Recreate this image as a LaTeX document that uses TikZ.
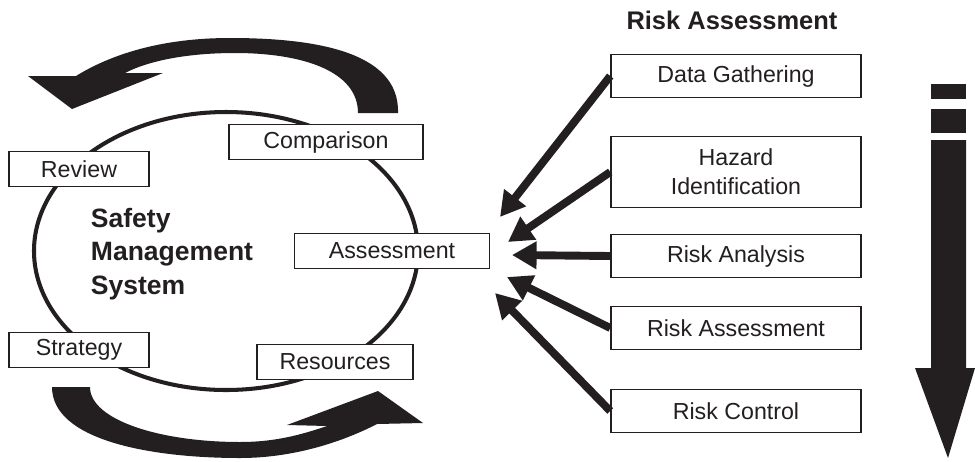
\documentclass[tikz,border=0pt]{standalone}
\usepackage{fontspec}
\setmainfont{Liberation Sans}
\usetikzlibrary{arrows.meta}
\definecolor{ink}{HTML}{231F20}
\tikzset{
  box/.style={draw=ink, line width=0.9pt, fill=white, inner sep=0pt, align=center,
    font=\fontsize{13.2}{16.4}\selectfont, text=ink},
  rabox/.style={box, minimum width=5cm, minimum height=0.86cm},
  smsbox/.style={box, minimum height=0.7cm},
  fat/.style={ink, line width=4.5pt, -{Triangle[length=14pt,width=15pt]}},
}
\begin{document}
\begin{tikzpicture}[x=0.02cm,y=-0.02cm]
\useasboundingbox (0,0) rectangle (975,461);
\draw[ink, line width=2.3pt] (226,251) ellipse [x radius=192, y radius=139];
\node[font=\fontsize{14.5}{17}\bfseries, text=ink] (title) at (732,20) {Risk Assessment};
\node[rabox] (gather) at (736,76) {Data Gathering};
\node[rabox, minimum height=1.42cm] (hazard) at (736,172) {Hazard\\Identification};
\node[rabox] (analysis) at (736,256) {Risk Analysis};
\node[rabox] (assess) at (736,328) {Risk Assessment};
\node[rabox] (control) at (736,411) {Risk Control};
\node[smsbox, minimum width=3.88cm] (compare) at (326,142) {Comparison};
\node[smsbox, minimum width=2.8cm] (review) at (79,169) {Review};
\node[smsbox, minimum width=3.9cm] (assessm) at (392,251) {Assessment};
\node[smsbox, minimum width=2.8cm] (strategy) at (79,350) {Strategy};
\node[smsbox, minimum width=3.12cm] (resources) at (335,362) {Resources};
\node[align=left, font=\fontsize{15.1}{19}\bfseries, text=ink] (sms) at (172,254) {Safety\\Management\\System};
\coordinate (tip1) at (500,217);
\coordinate (tip2) at (508,242);
\coordinate (tip3) at (512,255);
\coordinate (tip4) at (507,277);
\coordinate (tip5) at (495,293);
\draw[fat] (gather.west) -- (tip1);
\draw[fat] (hazard.west) -- (tip2);
\draw[fat] (analysis.west) -- (tip3);
\draw[fat] (assess.west) -- (tip4);
\draw[fat] (control.west) -- (tip5);
% cycle arrows
\fill[ink] (398,113) .. controls (400,50) and (310,38) .. (230,38)
  .. controls (160,38) and (110,55) .. (76,76) -- (28,76) -- (72,109) -- (163,73) -- (125,73)
  .. controls (150,60) and (190,53) .. (235,53) .. controls (300,53) and (358,70) .. (358,113) -- cycle;
\fill[ink] (52,387) .. controls (52,440) and (150,458) .. (240,458)
  .. controls (300,458) and (350,438) .. (377,424) -- (423,423) -- (378,391) -- (287,425) -- (327,426)
  .. controls (295,437) and (270,442) .. (240,442) .. controls (160,442) and (90,420) .. (90,387) -- cycle;
% order arrow
\fill[ink] (931,84) rectangle (966,99);
\fill[ink] (931,109) rectangle (966,133);
\fill[ink] (931,140) -- (966,140) -- (966,368) -- (975,368) -- (948,458) -- (915,368) -- (931,368) -- cycle;
\end{tikzpicture}
\end{document}
